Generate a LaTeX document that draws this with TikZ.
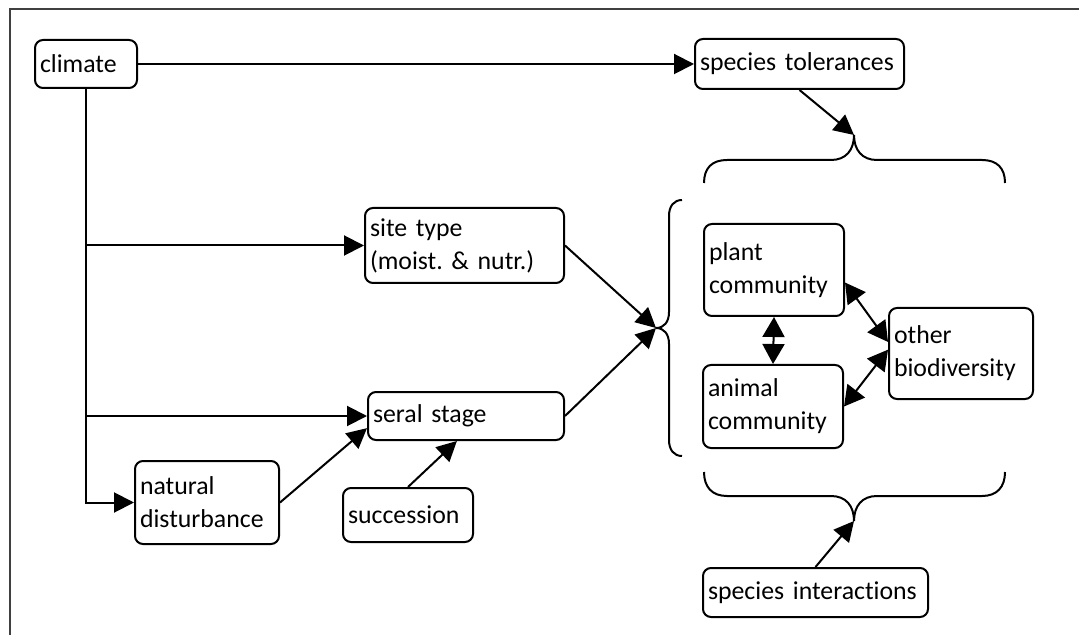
\documentclass[tikz,border=0pt]{standalone}
\usepackage{fontspec}
\setmainfont{Carlito}[Ligatures=NoCommon]
\usetikzlibrary{arrows.meta}
\newlength{\du}
\setlength{\du}{0.5pt}
\frenchspacing

\begin{document}
\begin{tikzpicture}[
  box/.style={draw, line width=1pt, rounded corners=8\du, align=left,
    inner xsep=5\du, inner ysep=0pt, font=\fontsize{12.9}{16.5}\selectfont},
  arr/.style={line width=1pt, -{Triangle[length=10pt,width=10pt]}},
  dblarr/.style={line width=1pt,
    {Triangle[length=10pt,width=11pt]}-{Triangle[length=10pt,width=11pt]}},
  brace/.style={line width=1pt}
]
\pgftransformxscale{1.000000}
\pgftransformyscale{-1.000000}
\useasboundingbox (0\du,0\du) rectangle (1079\du,635\du);
% frame
\draw[line width=0.7pt, black!75] (10\du,640\du)--(10\du,9\du)--(1085\du,9\du);
% boxes
\node[box, text width=92\du, minimum height=48\du] (climate) at (86\du,64\du) {climate};
\node[box, text width=199\du, minimum height=50\du] (tolerances) at (799.5\du,64\du) {species tolerances};
\node[box, text width=189\du, minimum height=75\du] (sitetype) at (464.5\du,245.5\du) {site type\\(moist. \& nutr.)};
\node[box, text width=186\du, minimum height=48\du] (seral) at (466\du,416\du) {seral stage};
\node[box, text width=134\du, minimum height=83\du] (disturbance) at (207\du,502.5\du) {natural\\disturbance};
\node[box, text width=120\du, minimum height=54\du] (succession) at (408\du,515\du) {succession};
\node[box, text width=130\du, minimum height=92\du] (plant) at (774\du,270\du) {plant\\community};
\node[box, text width=130\du, minimum height=83\du] (animal) at (773\du,406.5\du) {animal\\community};
\node[box, text width=134\du, minimum height=91\du] (otherbio) at (961\du,353.5\du) {other\\biodiversity};
\node[box, text width=215\du, minimum height=49\du] (interactions) at (815.5\du,592.5\du) {species interactions};
% braces
\draw[brace] (704\du,183\du) .. controls (704\du,168\du) and (712\du,160\du) .. (727\du,160\du)
  -- (831\du,160\du) .. controls (846\du,160\du) and (854\du,150\du) .. (854\du,135\du)
  .. controls (854\du,150\du) and (862\du,160\du) .. (877\du,160\du)
  -- (982\du,160\du) .. controls (997\du,160\du) and (1005\du,168\du) .. (1005\du,183\du);
\coordinate (toptip) at (854\du,135\du);
\draw[brace] (704\du,472\du) .. controls (704\du,487\du) and (712\du,496\du) .. (727\du,496\du)
  -- (831\du,496\du) .. controls (846\du,496\du) and (854\du,506\du) .. (854\du,521\du)
  .. controls (854\du,506\du) and (862\du,496\du) .. (877\du,496\du)
  -- (982\du,496\du) .. controls (997\du,496\du) and (1005\du,487\du) .. (1005\du,472\du);
\coordinate (bottomtip) at (854\du,521\du);
\draw[brace] (682\du,200\du) .. controls (674\du,200\du) and (669\du,206\du) .. (669\du,216\du)
  -- (669\du,312\du) .. controls (669\du,322\du) and (664\du,328\du) .. (656\du,328\du)
  .. controls (664\du,328\du) and (669\du,334\du) .. (669\du,344\du)
  -- (669\du,440\du) .. controls (669\du,450\du) and (674\du,456\du) .. (682\du,456\du);
\coordinate (lefttip) at (656\du,328\du);
% connectors
\draw[arr] (climate.east)--(tolerances.west);
\draw[arr] (climate.south) |- (sitetype.west);
\draw[arr] (climate.south) |- (seral.west);
\draw[arr] (climate.south) |- (disturbance.west);
\draw[arr] (disturbance.east)--(seral.187);
\draw[arr] (succession.north)--(seral.250);
\draw[arr] (sitetype.east)--(lefttip);
\draw[arr] (seral.east)--(lefttip);
\draw[arr] (tolerances.south)--(toptip);
\draw[arr] (interactions.north)--(bottomtip);
\draw[dblarr] (plant.south)--(animal.north);
\draw[dblarr] (plant.-10)--(otherbio.171);
\draw[dblarr] (animal.east)--(otherbio.177);
\end{tikzpicture}
\end{document}
